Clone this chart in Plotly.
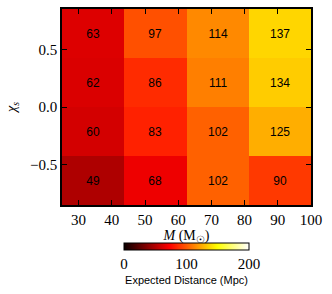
import plotly.graph_objects as go

mass_edges = [25, 43.75, 62.5, 81.25, 100]
spin_edges = [-0.85, -0.425, 0.0, 0.425, 0.85]
distances = [
    [49, 68, 102, 90],
    [60, 83, 102, 125],
    [62, 86, 111, 134],
    [63, 97, 114, 137],
]
x_ticks = [30, 40, 50, 60, 70, 80, 90, 100]
y_ticks = [-0.5, 0.0, 0.5]
cbar_ticks = [0, 100, 200]

hot = [
    [0.0, "rgb(10,0,0)"],
    [0.365079, "rgb(255,0,0)"],
    [0.746032, "rgb(255,255,0)"],
    [1.0, "rgb(255,255,255)"],
]

serif = "Liberation Serif"
sans = "Liberation Sans"

fig = go.Figure(go.Heatmap(
    x=mass_edges, y=spin_edges, z=distances,
    zmin=0, zmax=200, colorscale=hot,
    texttemplate="%{z}", textfont=dict(family=sans, size=12, color="black"),
    colorbar=dict(
        orientation="h", x=0.5, xanchor="center", y=-0.194, yanchor="top",
        len=0.502, lenmode="fraction", thickness=7,
        outlinewidth=1, outlinecolor="black",
        tickvals=cbar_ticks, ticks="", tickfont=dict(family=serif, size=15, color="black"),
        title=dict(text="Expected Distance (Mpc)", side="bottom",
                   font=dict(family=sans, size=11, color="black")),
        ypad=0, xpad=0,
    ),
))

fig.add_shape(type="line", xref="paper", yref="paper",
              x0=0.5, x1=0.5, y0=-0.194, y1=-0.194 - 7 / 196,
              line=dict(color="black", width=1))

axis_common = dict(
    showline=True, linecolor="black", linewidth=1.5, mirror="ticks",
    ticks="inside", ticklen=5, tickwidth=1, tickcolor="black",
    showgrid=False, zeroline=False, automargin=False,
    tickfont=dict(family=serif, size=15, color="black"),
)

fig.update_layout(
    width=332, height=294,
    margin=dict(l=62, r=21, t=9, b=89, autoexpand=False),
    paper_bgcolor="white", plot_bgcolor="white",
    xaxis=dict(range=[25, 100], tickvals=x_ticks,
               title=dict(text="<i>M</i> (M<sub>☉</sub>)", standoff=2,
                          font=dict(family=serif, size=14, color="black")),
               **axis_common),
    yaxis=dict(range=[-0.85, 0.85], tickvals=y_ticks, tickformat=".1f",
               title=dict(text="<i>χ<sub>s</sub></i>", standoff=10,
                          font=dict(family=serif, size=14, color="black")),
               **axis_common),
)

fig.write_html("out.html", config={"displayModeBar": False},
               post_script="document.body.style.margin='0';")
